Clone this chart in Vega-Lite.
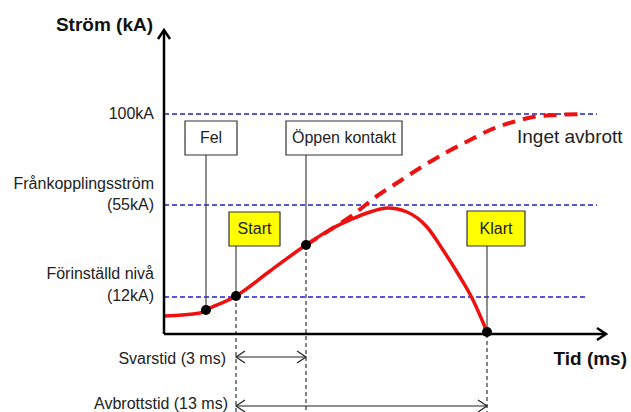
{
  "$schema": "https://vega.github.io/schema/vega-lite/v6.json",
  "width": 631,
  "height": 412,
  "autosize": {"type": "none"},
  "padding": 0,
  "background": "#ffffff",
  "config": {"view": {"stroke": null}, "text": {"font": "Liberation Sans", "color": "#222222"}},
  "datasets": {
    "guides": [
      {"x": 164, "x2": 597, "y": 114},
      {"x": 164, "x2": 597, "y": 205},
      {"x": 164, "x2": 586, "y": 297}
    ],
    "stems": [
      {"x": 206, "y": 155, "y2": 310},
      {"x": 306, "y": 155, "y2": 245},
      {"x": 236, "y": 246, "y2": 296},
      {"x": 487, "y": 246, "y2": 332}
    ],
    "drops": [
      {"x": 236, "y": 296, "y2": 412},
      {"x": 306, "y": 245, "y2": 412},
      {"x": 487, "y": 334, "y2": 412}
    ],
    "spans": [
      {"x": 236, "x2": 306, "y": 357},
      {"x": 236, "x2": 487, "y": 406}
    ],
    "axes": [
      {"x": 164, "x2": 604, "y": 334, "y2": 334},
      {"x": 164, "x2": 164, "y": 334, "y2": 31}
    ],
    "current": [
      {"x": 164, "y": 316}, {"x": 200, "y": 313}, {"x": 206, "y": 310}, {"x": 236, "y": 296},
      {"x": 270, "y": 271}, {"x": 306, "y": 245}, {"x": 333, "y": 228}, {"x": 350, "y": 220},
      {"x": 367, "y": 213}, {"x": 388, "y": 208}, {"x": 407, "y": 212}, {"x": 427, "y": 227},
      {"x": 443, "y": 250}, {"x": 460, "y": 277}, {"x": 473, "y": 300}, {"x": 487, "y": 332}
    ],
    "prospective": [
      {"x": 306, "y": 245}, {"x": 333, "y": 228}, {"x": 350, "y": 217}, {"x": 377, "y": 196},
      {"x": 400, "y": 181}, {"x": 423, "y": 166}, {"x": 447, "y": 152}, {"x": 470, "y": 140},
      {"x": 490, "y": 130}, {"x": 513, "y": 122}, {"x": 533, "y": 117}, {"x": 557, "y": 115},
      {"x": 582, "y": 114}
    ],
    "events": [
      {"x": 206, "y": 310}, {"x": 236, "y": 296}, {"x": 306, "y": 245}, {"x": 487, "y": 332}
    ],
    "boxes": [
      {"label": "Fel", "kind": "event", "x": 185, "x2": 237, "y": 121, "y2": 155, "xc": 211, "yc": 138},
      {"label": "Öppen kontakt", "kind": "event", "x": 286, "x2": 402, "y": 121, "y2": 155, "xc": 344, "yc": 138},
      {"label": "Start", "kind": "action", "x": 229, "x2": 280, "y": 212, "y2": 246, "xc": 254.5, "yc": 229},
      {"label": "Klart", "kind": "action", "x": 467, "x2": 525, "y": 211, "y2": 246, "xc": 496, "yc": 228.5}
    ],
    "axisHeads": [
      {"x": 164, "y": 30, "dir": "up"},
      {"x": 606, "y": 334, "dir": "right"}
    ],
    "spanHeads": [
      {"x": 236, "y": 357, "dir": "left"},
      {"x": 306, "y": 357, "dir": "right"},
      {"x": 236, "y": 406, "dir": "left"},
      {"x": 487, "y": 406, "dir": "right"}
    ],
    "levelLabels": [
      {"label": "100kA", "x": 154, "y": 114},
      {"label": "Frånkopplingsström", "x": 154, "y": 184},
      {"label": "(55kA)", "x": 154, "y": 205},
      {"label": "Förinställd nivå", "x": 154, "y": 274},
      {"label": "(12kA)", "x": 154, "y": 296},
      {"label": "Svarstid (3 ms)", "x": 226, "y": 359},
      {"label": "Avbrottstid (13 ms)", "x": 228, "y": 404}
    ],
    "titles": [
      {"label": "Ström (kA)", "x": 153, "y": 25},
      {"label": "Tid (ms)", "x": 627, "y": 359}
    ],
    "notes": [
      {"label": "Inget avbrott", "x": 517, "y": 137}
    ]
  },
  "layer": [
    {
      "data": {"name": "guides"},
      "mark": {"type": "rule", "color": "#1f1fcc", "strokeWidth": 1.3, "strokeDash": [5, 3]},
      "encoding": {
        "x": {"field": "x", "type": "quantitative", "scale": {"domain": [0, 631], "nice": false, "zero": false}, "axis": null},
        "x2": {"field": "x2"},
        "y": {"field": "y", "type": "quantitative", "scale": {"domain": [0, 412], "nice": false, "zero": false, "reverse": true}, "axis": null}
      }
    },
    {
      "data": {"name": "stems"},
      "mark": {"type": "rule", "color": "#444444", "strokeWidth": 1.2},
      "encoding": {
        "x": {"field": "x", "type": "quantitative", "scale": {"domain": [0, 631], "nice": false, "zero": false}, "axis": null},
        "y": {"field": "y", "type": "quantitative", "scale": {"domain": [0, 412], "nice": false, "zero": false, "reverse": true}, "axis": null},
        "y2": {"field": "y2"}
      }
    },
    {
      "data": {"name": "drops"},
      "mark": {"type": "rule", "color": "#333333", "strokeWidth": 1.2, "strokeDash": [4, 3]},
      "encoding": {
        "x": {"field": "x", "type": "quantitative", "scale": {"domain": [0, 631], "nice": false, "zero": false}, "axis": null},
        "y": {"field": "y", "type": "quantitative", "scale": {"domain": [0, 412], "nice": false, "zero": false, "reverse": true}, "axis": null},
        "y2": {"field": "y2"}
      }
    },
    {
      "data": {"name": "spans"},
      "mark": {"type": "rule", "color": "#222222", "strokeWidth": 1.2},
      "encoding": {
        "x": {"field": "x", "type": "quantitative", "scale": {"domain": [0, 631], "nice": false, "zero": false}, "axis": null},
        "x2": {"field": "x2"},
        "y": {"field": "y", "type": "quantitative", "scale": {"domain": [0, 412], "nice": false, "zero": false, "reverse": true}, "axis": null}
      }
    },
    {
      "data": {"name": "spanHeads"},
      "mark": {"type": "point", "filled": false, "color": "#222222", "strokeWidth": 1.2, "opacity": 1, "size": 144},
      "encoding": {
        "x": {"field": "x", "type": "quantitative", "scale": {"domain": [0, 631], "nice": false, "zero": false}, "axis": null},
        "y": {"field": "y", "type": "quantitative", "scale": {"domain": [0, 412], "nice": false, "zero": false, "reverse": true}, "axis": null},
        "shape": {"field": "dir", "type": "nominal", "legend": null,
          "scale": {"domain": ["up", "right", "left"], "range": ["M-1,1.5L0,0L1,1.5", "M-1.5,-1L0,0L-1.5,1", "M1.5,-1L0,0L1.5,1"]}}
      }
    },
    {
      "data": {"name": "prospective"},
      "mark": {"type": "line", "color": "#ee1111", "strokeWidth": 4, "strokeDash": [13, 8], "interpolate": "monotone"},
      "encoding": {
        "x": {"field": "x", "type": "quantitative", "scale": {"domain": [0, 631], "nice": false, "zero": false}, "axis": null},
        "y": {"field": "y", "type": "quantitative", "scale": {"domain": [0, 412], "nice": false, "zero": false, "reverse": true}, "axis": null}
      }
    },
    {
      "data": {"name": "current"},
      "mark": {"type": "line", "color": "#ee1111", "strokeWidth": 3.5, "interpolate": "monotone"},
      "encoding": {
        "x": {"field": "x", "type": "quantitative", "scale": {"domain": [0, 631], "nice": false, "zero": false}, "axis": null},
        "y": {"field": "y", "type": "quantitative", "scale": {"domain": [0, 412], "nice": false, "zero": false, "reverse": true}, "axis": null}
      }
    },
    {
      "data": {"name": "axes"},
      "mark": {"type": "rule", "color": "#000000", "strokeWidth": 2.5},
      "encoding": {
        "x": {"field": "x", "type": "quantitative", "scale": {"domain": [0, 631], "nice": false, "zero": false}, "axis": null},
        "x2": {"field": "x2"},
        "y": {"field": "y", "type": "quantitative", "scale": {"domain": [0, 412], "nice": false, "zero": false, "reverse": true}, "axis": null},
        "y2": {"field": "y2"}
      }
    },
    {
      "data": {"name": "axisHeads"},
      "mark": {"type": "point", "filled": false, "color": "#000000", "strokeWidth": 2.5, "opacity": 1, "size": 144},
      "encoding": {
        "x": {"field": "x", "type": "quantitative", "scale": {"domain": [0, 631], "nice": false, "zero": false}, "axis": null},
        "y": {"field": "y", "type": "quantitative", "scale": {"domain": [0, 412], "nice": false, "zero": false, "reverse": true}, "axis": null},
        "shape": {"field": "dir", "type": "nominal", "legend": null,
          "scale": {"domain": ["up", "right", "left"], "range": ["M-1,1.5L0,0L1,1.5", "M-1.5,-1L0,0L-1.5,1", "M1.5,-1L0,0L1.5,1"]}}
      }
    },
    {
      "data": {"name": "events"},
      "mark": {"type": "point", "filled": true, "color": "#000000", "opacity": 1, "size": 100},
      "encoding": {
        "x": {"field": "x", "type": "quantitative", "scale": {"domain": [0, 631], "nice": false, "zero": false}, "axis": null},
        "y": {"field": "y", "type": "quantitative", "scale": {"domain": [0, 412], "nice": false, "zero": false, "reverse": true}, "axis": null}
      }
    },
    {
      "data": {"name": "boxes"},
      "mark": {"type": "rect", "stroke": "#333333", "strokeWidth": 1.2},
      "encoding": {
        "x": {"field": "x", "type": "quantitative", "scale": {"domain": [0, 631], "nice": false, "zero": false}, "axis": null},
        "x2": {"field": "x2"},
        "y": {"field": "y", "type": "quantitative", "scale": {"domain": [0, 412], "nice": false, "zero": false, "reverse": true}, "axis": null},
        "y2": {"field": "y2"},
        "fill": {"field": "kind", "type": "nominal", "legend": null, "scale": {"domain": ["event", "action"], "range": ["#ffffff", "#ffff00"]}}
      }
    },
    {
      "data": {"name": "boxes"},
      "mark": {"type": "text", "fontSize": 16, "align": "center", "baseline": "middle"},
      "encoding": {
        "x": {"field": "xc", "type": "quantitative", "scale": {"domain": [0, 631], "nice": false, "zero": false}, "axis": null},
        "y": {"field": "yc", "type": "quantitative", "scale": {"domain": [0, 412], "nice": false, "zero": false, "reverse": true}, "axis": null},
        "text": {"field": "label"}
      }
    },
    {
      "data": {"name": "levelLabels"},
      "mark": {"type": "text", "fontSize": 16, "align": "right", "baseline": "middle"},
      "encoding": {
        "x": {"field": "x", "type": "quantitative", "scale": {"domain": [0, 631], "nice": false, "zero": false}, "axis": null},
        "y": {"field": "y", "type": "quantitative", "scale": {"domain": [0, 412], "nice": false, "zero": false, "reverse": true}, "axis": null},
        "text": {"field": "label"}
      }
    },
    {
      "data": {"name": "titles"},
      "mark": {"type": "text", "fontSize": 19, "fontWeight": "bold", "align": "right", "baseline": "middle", "color": "#111111"},
      "encoding": {
        "x": {"field": "x", "type": "quantitative", "scale": {"domain": [0, 631], "nice": false, "zero": false}, "axis": null},
        "y": {"field": "y", "type": "quantitative", "scale": {"domain": [0, 412], "nice": false, "zero": false, "reverse": true}, "axis": null},
        "text": {"field": "label"}
      }
    },
    {
      "data": {"name": "notes"},
      "mark": {"type": "text", "fontSize": 19, "align": "left", "baseline": "middle"},
      "encoding": {
        "x": {"field": "x", "type": "quantitative", "scale": {"domain": [0, 631], "nice": false, "zero": false}, "axis": null},
        "y": {"field": "y", "type": "quantitative", "scale": {"domain": [0, 412], "nice": false, "zero": false, "reverse": true}, "axis": null},
        "text": {"field": "label"}
      }
    }
  ]
}
